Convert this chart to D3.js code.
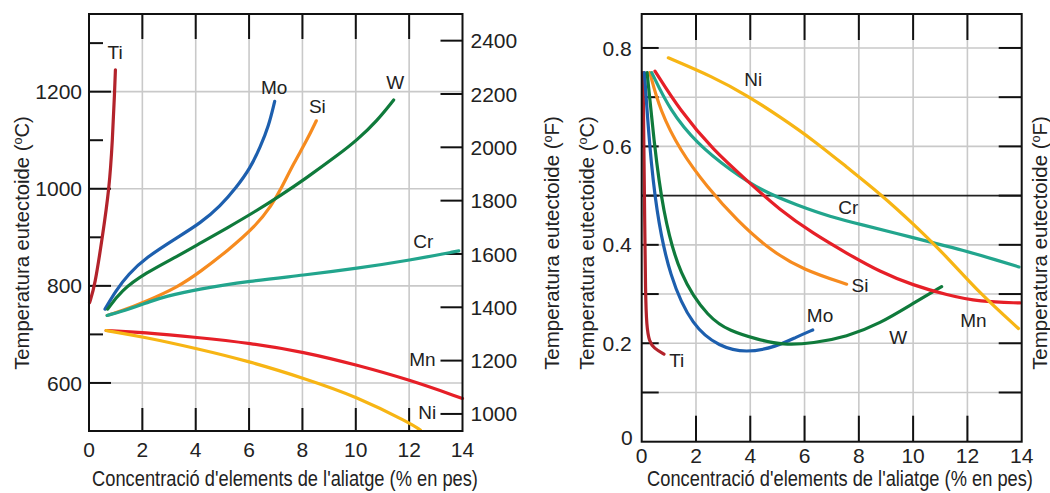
<!DOCTYPE html>
<html>
<head>
<meta charset="utf-8">
<script src="https://cdn.jsdelivr.net/npm/d3@7"></script>
<style>
  body { margin: 0; background: #fff; }
  text { font-family: "Liberation Sans", Arial, sans-serif; fill: #222; }
</style>
</head>
<body>
<div id="chart"></div>
<script>
// Chart data: alloy concentration (wt%) vs eutectoid temperature (C) / composition (wt% C)
var xTicks = [0, 2, 4, 6, 8, 10, 12, 14];
var tempTicksC = [600, 800, 1000, 1200];
var tempMinorC = [700, 900, 1100, 1300];
var tempTicksF = [1000, 1200, 1400, 1600, 1800, 2000, 2200, 2400];
var compTicks = [0, 0.2, 0.4, 0.6, 0.8];
var compMinor = [0.1, 0.3, 0.5, 0.7];

var elements = ["Ti", "Mo", "Si", "W", "Cr", "Mn", "Ni"];

// Left panel: eutectoid temperature (C)
var tempTi = [[0.02, 765], [0.22, 800], [0.5, 900], [0.76, 1000], [0.88, 1100], [0.96, 1200], [0.99, 1245]];
var tempMo = [[0.6, 752], [1.0, 790], [1.48, 824], [2.1, 857], [3.35, 901], [4.17, 929], [4.92, 964], [5.54, 1004], [6.04, 1042], [6.42, 1086], [6.73, 1128], [6.96, 1180]];
var tempSi = [[0.68, 739], [1.2, 748], [2.1, 767], [3.35, 798], [4.17, 829], [5.23, 874], [6.23, 922], [6.85, 966], [7.2, 1000], [7.67, 1052], [8.17, 1100], [8.52, 1140]];
var tempW  = [[0.7, 752], [1.2, 790], [2.1, 826], [3.35, 862], [4.17, 888], [5.2, 920], [6.23, 953], [7.2, 987], [8.04, 1018], [9.42, 1073], [10.04, 1100], [10.8, 1140], [11.42, 1183]];
var tempCr = [[0.68, 739], [1.5, 752], [2.3, 768], [2.85, 778], [4.04, 793], [6.04, 810], [8.04, 822], [10.04, 836], [12.04, 853], [13.86, 872]];
var tempMn = [[0.64, 708], [2.04, 704], [4.04, 694], [6.04, 682], [8.04, 664], [10.04, 637], [12.04, 606], [14, 568]];
var tempNi = [[0.64, 708], [2.04, 695], [4.04, 671], [6.04, 644], [8.04, 610], [10.04, 572], [12.04, 517], [12.42, 503]];

// Right panel: eutectoid composition (wt% C)
var compTi = [[0.05, 0.75], [0.08, 0.6], [0.11, 0.45], [0.14, 0.3], [0.18, 0.235], [0.28, 0.203], [0.45, 0.19], [0.82, 0.178]];
var compMo = [[0.1, 0.75], [0.28, 0.606], [0.53, 0.47], [1.02, 0.335], [1.88, 0.233], [2.86, 0.193], [3.84, 0.18], [4.97, 0.193], [5.71, 0.213], [6.3, 0.227]];
var compSi = [[0.3, 0.75], [0.67, 0.673], [1.41, 0.592], [2.4, 0.518], [3.5, 0.45], [4.73, 0.389], [5.95, 0.349], [7.55, 0.32]];
var compW  = [[0.2, 0.75], [0.46, 0.606], [0.77, 0.47], [1.39, 0.335], [2.49, 0.25], [3.25, 0.225], [4.24, 0.208], [5.22, 0.196], [6.32, 0.2], [7.55, 0.213], [8.78, 0.24], [10, 0.281], [11.05, 0.315]];
var compCr = [[0.37, 0.75], [1.04, 0.673], [2.03, 0.606], [3.25, 0.552], [4.48, 0.508], [5.71, 0.481], [6.94, 0.457], [8.17, 0.44], [9.4, 0.423], [10.6, 0.406], [11.85, 0.389], [13.08, 0.369], [13.9, 0.355]];
var compMn = [[0.49, 0.753], [1.41, 0.673], [2.64, 0.592], [3.87, 0.531], [5.1, 0.47], [6.32, 0.423], [7.55, 0.383], [8.78, 0.345], [10, 0.318], [11.24, 0.298], [12.46, 0.284], [13.94, 0.282]];
var compNi = [[0.98, 0.78], [2.64, 0.741], [3.87, 0.704], [5.1, 0.66], [6.32, 0.613], [7.55, 0.558], [8.78, 0.504], [10, 0.443], [11.24, 0.376], [12.46, 0.301], [13.88, 0.23]];

// Label anchors, in data units
var tempLabels = [[0.98, 1281], [6.94, 1209], [8.56, 1170], [11.48, 1220], [12.53, 891], [12.5, 648], [12.68, 539]];
var compLabels = [[1.29, 0.166], [6.57, 0.257], [8.04, 0.318], [9.45, 0.213], [7.61, 0.477], [12.22, 0.247], [4.11, 0.736]];

var colors = {
  Ti: "#b3232b", Mo: "#1d5fae", Si: "#f68b1f", W: "#0f7a3b",
  Cr: "#22a58d", Mn: "#e61f27", Ni: "#f7b514"
};

var tempSeries = [tempTi, tempMo, tempSi, tempW, tempCr, tempMn, tempNi];
var compSeries = [compTi, compMo, compSi, compW, compCr, compMn, compNi];

var svgWidth = 1050;
var svgHeight = 493;

var svg = d3.select("#chart")
  .append("svg")
  .attr("width", svgWidth)
  .attr("height", svgHeight);

var gridColor = "#c9c9c9";
var xTitle = "Concentració d'elements de l'aliatge (% en pes)";

// ---------- Left panel ----------
var L = { left: 89, right: 462.5, top: 14, bottom: 431 };
var xL = d3.scaleLinear().domain([0, 14]).range([L.left, L.right]);
var yC = d3.scaleLinear().domain([501, 1360]).range([L.bottom, L.top]);
var yF = d3.scaleLinear().domain([936, 2500]).range([L.bottom, L.top]);

var left = svg.append("g").classed("left-panel", true);

// gridlines
left.append("g").selectAll("line")
  .data(xTicks.slice(1, -1))
  .enter().append("line")
  .attr("x1", d => xL(d)).attr("x2", d => xL(d))
  .attr("y1", L.top).attr("y2", L.bottom)
  .attr("stroke", gridColor).attr("stroke-width", 1.6);

left.append("g").selectAll("line")
  .data(tempTicksC)
  .enter().append("line")
  .attr("x1", L.left).attr("x2", L.right)
  .attr("y1", d => yC(d)).attr("y2", d => yC(d))
  .attr("stroke", gridColor).attr("stroke-width", 1.6);

// inward ticks
var tickL = left.append("g").attr("stroke", "#111").attr("stroke-width", 2);
tempTicksC.forEach(function(d) {
  tickL.append("line").attr("x1", L.left).attr("x2", L.left + 22).attr("y1", yC(d)).attr("y2", yC(d));
});
tempMinorC.forEach(function(d) {
  tickL.append("line").attr("x1", L.left).attr("x2", L.left + 14).attr("y1", yC(d)).attr("y2", yC(d));
});
tempTicksF.forEach(function(d) {
  tickL.append("line").attr("x1", L.right - 22).attr("x2", L.right).attr("y1", yF(d)).attr("y2", yF(d));
});
xTicks.slice(1, -1).forEach(function(d) {
  tickL.append("line").attr("x1", xL(d)).attr("x2", xL(d)).attr("y1", L.top).attr("y2", L.top + 25);
  tickL.append("line").attr("x1", xL(d)).attr("x2", xL(d)).attr("y1", L.bottom - 23).attr("y2", L.bottom);
});

// curves (B-spline smooths out the reading noise)
var lineL = d3.line()
  .x(d => xL(d[0]))
  .y(d => yC(d[1]))
  .curve(d3.curveBasis);

left.append("g").selectAll("path")
  .data(tempSeries)
  .enter().append("path")
  .attr("d", lineL)
  .attr("fill", "none")
  .attr("stroke", (d, i) => colors[elements[i]])
  .attr("stroke-width", 3.2)
  .attr("stroke-linecap", "round");

// frame
left.append("rect")
  .attr("x", L.left).attr("y", L.top)
  .attr("width", L.right - L.left).attr("height", L.bottom - L.top)
  .attr("fill", "none").attr("stroke", "#111").attr("stroke-width", 2);

// series labels
left.append("g").selectAll("text")
  .data(tempLabels)
  .enter().append("text")
  .attr("x", d => xL(d[0]))
  .attr("y", d => yC(d[1]))
  .attr("dy", "0.35em")
  .attr("text-anchor", "middle")
  .attr("font-size", 19)
  .text((d, i) => elements[i]);

// tick labels
left.append("g").selectAll("text")
  .data(xTicks)
  .enter().append("text")
  .attr("x", d => xL(d)).attr("y", 457)
  .attr("text-anchor", "middle").attr("font-size", 21)
  .text(d => d);

left.append("g").selectAll("text")
  .data(tempTicksC)
  .enter().append("text")
  .attr("x", L.left - 7).attr("y", d => yC(d))
  .attr("dy", "0.36em")
  .attr("text-anchor", "end").attr("font-size", 21)
  .text(d => d);

left.append("g").selectAll("text")
  .data(tempTicksF)
  .enter().append("text")
  .attr("x", L.right + 8).attr("y", d => yF(d))
  .attr("dy", "0.36em")
  .attr("text-anchor", "start").attr("font-size", 21)
  .text(d => d);

// ---------- Right panel ----------
var R = { left: 641.7, right: 1021.7, top: 14, bottom: 441.7 };
var xR = d3.scaleLinear().domain([0, 14]).range([R.left, R.right]);
var yR = d3.scaleLinear().domain([0, 0.869]).range([R.bottom, R.top]);

var right = svg.append("g").classed("right-panel", true);
var allComp = compTicks.concat(compMinor).filter(d => d > 0);

right.append("g").selectAll("line")
  .data(xTicks.slice(1, -1))
  .enter().append("line")
  .attr("x1", d => xR(d)).attr("x2", d => xR(d))
  .attr("y1", R.top).attr("y2", R.bottom)
  .attr("stroke", gridColor).attr("stroke-width", 1.6);

right.append("g").selectAll("line")
  .data(allComp)
  .enter().append("line")
  .attr("x1", R.left).attr("x2", R.right)
  .attr("y1", d => yR(d)).attr("y2", d => yR(d))
  .attr("stroke", d => d === 0.5 ? "#222" : gridColor)
  .attr("stroke-width", 1.6);

var tickR = right.append("g").attr("stroke", "#111").attr("stroke-width", 2);
allComp.forEach(function(d) {
  tickR.append("line").attr("x1", R.left).attr("x2", R.left + 17).attr("y1", yR(d)).attr("y2", yR(d));
  tickR.append("line").attr("x1", R.right - 23).attr("x2", R.right).attr("y1", yR(d)).attr("y2", yR(d));
});
xTicks.slice(1, -1).forEach(function(d) {
  tickR.append("line").attr("x1", xR(d)).attr("x2", xR(d)).attr("y1", R.top).attr("y2", R.top + 26);
  tickR.append("line").attr("x1", xR(d)).attr("x2", xR(d)).attr("y1", R.bottom - 26).attr("y2", R.bottom);
});

var lineR = d3.line()
  .x(d => xR(d[0]))
  .y(d => yR(d[1]))
  .curve(d3.curveBasis);

right.append("g").selectAll("path")
  .data(compSeries)
  .enter().append("path")
  .attr("d", lineR)
  .attr("fill", "none")
  .attr("stroke", (d, i) => colors[elements[i]])
  .attr("stroke-width", 3.2)
  .attr("stroke-linecap", "round");

right.append("rect")
  .attr("x", R.left).attr("y", R.top)
  .attr("width", R.right - R.left).attr("height", R.bottom - R.top)
  .attr("fill", "none").attr("stroke", "#111").attr("stroke-width", 2);

right.append("g").selectAll("text")
  .data(compLabels)
  .enter().append("text")
  .attr("x", d => xR(d[0]))
  .attr("y", d => yR(d[1]))
  .attr("dy", "0.35em")
  .attr("text-anchor", "middle")
  .attr("font-size", 19)
  .text((d, i) => elements[i]);

right.append("g").selectAll("text")
  .data(xTicks)
  .enter().append("text")
  .attr("x", d => xR(d)).attr("y", 463)
  .attr("text-anchor", "middle").attr("font-size", 21)
  .text(d => d);

right.append("g").selectAll("text")
  .data(compTicks)
  .enter().append("text")
  .attr("x", d => d === 0 ? R.left - 9 : R.left - 10)
  .attr("y", d => d === 0 ? 445 : yR(d))
  .attr("dy", d => d === 0 ? "0" : "0.36em")
  .attr("text-anchor", "end").attr("font-size", 21)
  .text(d => d);

// ---------- Axis titles ----------
// condensed look: squeeze the text horizontally to the measured width
function squeezedTitle(cx, cy, size, width, rotate, fill) {
  var t = svg.append("text")
    .attr("text-anchor", "middle")
    .attr("font-size", size);
  fill(t);
  var sx = width / t.node().getComputedTextLength();
  t.attr("transform", `translate(${cx}, ${cy}) rotate(${rotate}) scale(${sx}, 1)`);
  return t;
}

function tempTitle(unit) {
  return function(t) {
    t.append("tspan").text("Temperatura eutectoide (");
    t.append("tspan").attr("baseline-shift", "super").attr("font-size", 13).text("o");
    t.append("tspan").text(unit + ")");
  };
}

squeezedTitle(29, 243, 21, 254, -90, tempTitle("C"));
squeezedTitle(559, 243, 21, 254, -90, tempTitle("F"));
squeezedTitle(594, 243, 21, 254, -90, tempTitle("C"));
squeezedTitle(1047, 243, 21, 254, -90, tempTitle("F"));

squeezedTitle(285, 486, 22, 386, 0, t => t.text(xTitle));
squeezedTitle(840, 486, 22, 386, 0, t => t.text(xTitle));
</script>
</body>
</html>
